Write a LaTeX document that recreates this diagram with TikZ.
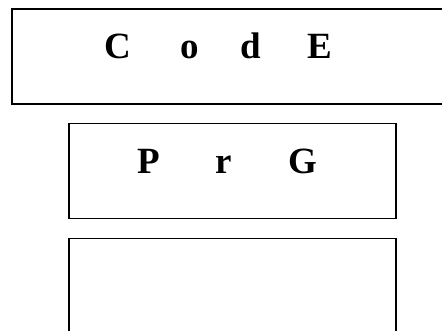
\documentclass[tikz,border=0pt]{standalone}
\usepackage{fontspec}
\setmainfont{Liberation Serif}
\usetikzlibrary{positioning}

\begin{document}
\begin{tikzpicture}[x = 1pt, y = -1pt,
	frame/.style = {draw, line width = 1.5pt, inner sep = 0pt, anchor = north west},
	letter/.style = {anchor = base west, inner sep = 0pt, font = \fontsize{37}{37}\selectfont\bfseries}]

	% Page
	
	\useasboundingbox (0, 0) rectangle (442, 331);
	\clip (0, 0) rectangle (442, 331);
	
	% Top box, its right side runs off the page
	
	\node [frame, line width = 2pt, minimum width = 445pt, minimum height = 95pt] (code) at (11, 8) {};
	\foreach \ch/\px [count = \i] in {C/104, o/180, d/240, E/307}
		\node [letter] (code\i) at (\px, 59) {\ch};
	
	% Middle box
	
	\node [frame, minimum width = 327pt, minimum height = 95pt] (prg) at (68, 123) {};
	\foreach \ch/\px [count = \i] in {P/137, r/215, G/288}
		\node [letter] (prg\i) at (\px, 174) {\ch};
	
	% Bottom box, runs off the page
	
	\node [frame, minimum width = 327pt, minimum height = 120pt] (empty) at (68, 238) {};

\end{tikzpicture}
\end{document}
